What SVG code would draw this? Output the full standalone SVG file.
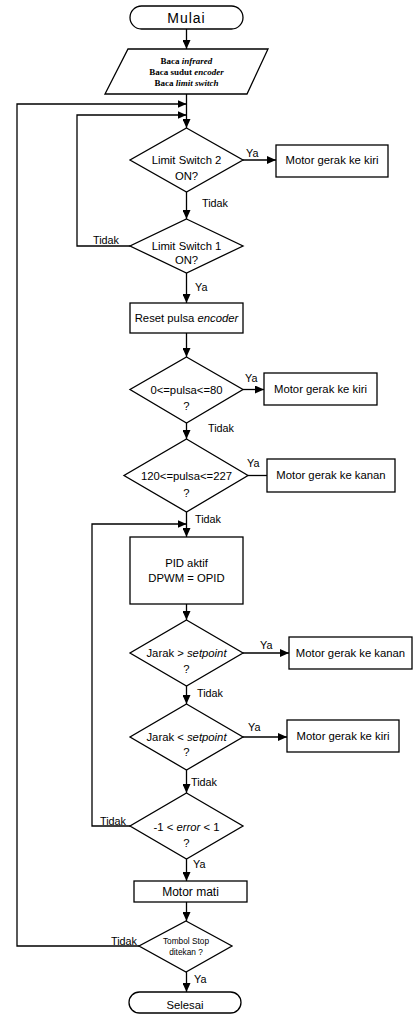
<svg xmlns="http://www.w3.org/2000/svg" width="413" height="1015" viewBox="0 0 413 1015">
<style>
.s{fill:#fff;stroke:#000;stroke-width:1.3}
.c{fill:none;stroke:#000;stroke-width:1.3}
.t{font-family:"Liberation Sans",Arial,sans-serif;font-size:11.3px;fill:#000;text-anchor:middle}
.l{font-family:"Liberation Sans",Arial,sans-serif;font-size:10.8px;fill:#000}
.p{font-family:"Liberation Serif","Times New Roman",serif;font-size:9px;font-weight:bold;fill:#000;text-anchor:middle}
</style>
<defs>
<marker id="a" markerWidth="9" markerHeight="8" refX="9" refY="4" orient="auto" markerUnits="userSpaceOnUse">
<path d="M0,0 L9,4 L0,8 z" fill="#000"/>
</marker>
</defs>
<rect width="413" height="1015" fill="#fff"/>
<g id="connectors">
<path class="c" d="M186.5,29 V49" marker-end="url(#a)"/>
<path class="c" d="M186.5,94 V128" marker-end="url(#a)"/>
<path class="c" d="M139,946 H17 V104 H186.5" marker-end="url(#a)"/>
<path class="c" d="M130,246 H77 V115 H186.5" marker-end="url(#a)"/>
<path class="c" d="M243,160 H276" marker-end="url(#a)"/>
<path class="c" d="M186.5,192 V219" marker-end="url(#a)"/>
<path class="c" d="M186.5,273 V303" marker-end="url(#a)"/>
<path class="c" d="M186.5,333 V357" marker-end="url(#a)"/>
<path class="c" d="M243,389.5 H264" marker-end="url(#a)"/>
<path class="c" d="M186.5,423 V439" marker-end="url(#a)"/>
<path class="c" d="M248,475.5 H267"/>
<path class="c" d="M186.5,512 V537" marker-end="url(#a)"/>
<path class="c" d="M130,826 H92 V524 H186.5" marker-end="url(#a)"/>
<path class="c" d="M186.5,604 V620" marker-end="url(#a)"/>
<path class="c" d="M243,653 H289" marker-end="url(#a)"/>
<path class="c" d="M186.5,686 V704" marker-end="url(#a)"/>
<path class="c" d="M243,737 H287" marker-end="url(#a)"/>
<path class="c" d="M186.5,770 V793" marker-end="url(#a)"/>
<path class="c" d="M186.5,859 V881" marker-end="url(#a)"/>
<path class="c" d="M186.5,902 V921" marker-end="url(#a)"/>
<path class="c" d="M186.5,972 V992" marker-end="url(#a)"/>
<text class="l" x="246" y="157">Ya</text>
<text class="l" x="202" y="207">Tidak</text>
<text class="l" x="93" y="244">Tidak</text>
<text class="l" x="195" y="291">Ya</text>
<text class="l" x="245" y="382">Ya</text>
<text class="l" x="208" y="432">Tidak</text>
<text class="l" x="247" y="467">Ya</text>
<text class="l" x="195" y="523">Tidak</text>
<text class="l" x="260" y="649">Ya</text>
<text class="l" x="197" y="697">Tidak</text>
<text class="l" x="248" y="731">Ya</text>
<text class="l" x="191" y="786">Tidak</text>
<text class="l" x="100" y="825">Tidak</text>
<text class="l" x="193" y="868">Ya</text>
<text class="l" x="111" y="945">Tidak</text>
<text class="l" x="194" y="983">Ya</text>
</g>
<g id="mulai"><rect class="s" x="130" y="6" width="113" height="23" rx="11.5"/><text class="t" x="186.5" y="23" style="font-size:14px;letter-spacing:1px">Mulai</text></g>
<g id="baca"><polygon class="s" points="128,49 268,49 247,94 105,94"/>
<text class="p" x="186.5" y="64">Baca <tspan font-style="italic">infrared</tspan></text>
<text class="p" x="186.5" y="75">Baca sudut <tspan font-style="italic">encoder</tspan></text>
<text class="p" x="186.5" y="86">Baca <tspan font-style="italic">limit switch</tspan></text></g>
<g id="ls2"><polygon class="s" points="186.5,128 243,160 186.5,192 130,160"/><text class="t" x="186.5" y="164">Limit Switch 2</text><text class="t" x="186.5" y="180">ON?</text></g>
<g id="kiri1"><rect class="s" x="276" y="145" width="112" height="32"/><text class="t" x="332" y="164">Motor gerak ke kiri</text></g>
<g id="ls1"><polygon class="s" points="186.5,219 243,246 186.5,273 130,246"/><text class="t" x="186.5" y="250">Limit Switch 1</text><text class="t" x="186.5" y="264">ON?</text></g>
<g id="reset"><rect class="s" x="130" y="303" width="113" height="30"/><text class="t" x="186.5" y="322">Reset pulsa <tspan font-style="italic">encoder</tspan></text></g>
<g id="p80"><polygon class="s" points="186.5,357 243,389.5 186.5,423 130,389.5"/><text class="t" x="186.5" y="394">0&lt;=pulsa&lt;=80</text><text class="t" x="186.5" y="410">?</text></g>
<g id="kiri2"><rect class="s" x="264" y="373" width="113" height="32"/><text class="t" x="320.5" y="393">Motor gerak ke kiri</text></g>
<g id="p227"><polygon class="s" points="186.5,439 248,475.5 186.5,512 124,475.5"/><text class="t" x="186.5" y="480">120&lt;=pulsa&lt;=227</text><text class="t" x="186.5" y="497">?</text></g>
<g id="kanan1"><rect class="s" x="267" y="459" width="128" height="33"/><text class="t" x="331" y="479">Motor gerak ke kanan</text></g>
<g id="pid"><rect class="s" x="130" y="537" width="113" height="67"/><text class="t" x="186.5" y="567">PID aktif</text><text class="t" x="186.5" y="582">DPWM = OPID</text></g>
<g id="jgt"><polygon class="s" points="186.5,620 243,653 186.5,686 130,653"/><text class="t" x="186.5" y="657">Jarak &gt; <tspan font-style="italic">setpoint</tspan></text><text class="t" x="186.5" y="673">?</text></g>
<g id="kanan2"><rect class="s" x="289" y="637" width="123" height="32"/><text class="t" x="350.5" y="657">Motor gerak ke kanan</text></g>
<g id="jlt"><polygon class="s" points="186.5,704 243,737 186.5,770 130,737"/><text class="t" x="186.5" y="741">Jarak &lt; <tspan font-style="italic">setpoint</tspan></text><text class="t" x="186.5" y="756">?</text></g>
<g id="kiri3"><rect class="s" x="287" y="720" width="112" height="32"/><text class="t" x="343" y="740">Motor gerak ke kiri</text></g>
<g id="err"><polygon class="s" points="186.5,793 243,826 186.5,859 130,826"/><text class="t" x="186.5" y="831">-1 &lt; <tspan font-style="italic">error</tspan> &lt; 1</text><text class="t" x="186.5" y="847">?</text></g>
<g id="mati"><rect class="s" x="134" y="881" width="113" height="21"/><text class="t" x="190.5" y="896" style="font-size:12px">Motor mati</text></g>
<g id="stop"><polygon class="s" points="186,921 232,946 186,972 139,946"/><text class="t" x="186" y="944" style="font-size:8.3px">Tombol Stop</text><text class="t" x="186" y="955" style="font-size:8.3px">ditekan ?</text></g>
<g id="selesai"><rect class="s" x="129" y="992" width="112" height="21" rx="10.5"/><text class="t" x="185" y="1009">Selesai</text></g>
</svg>
